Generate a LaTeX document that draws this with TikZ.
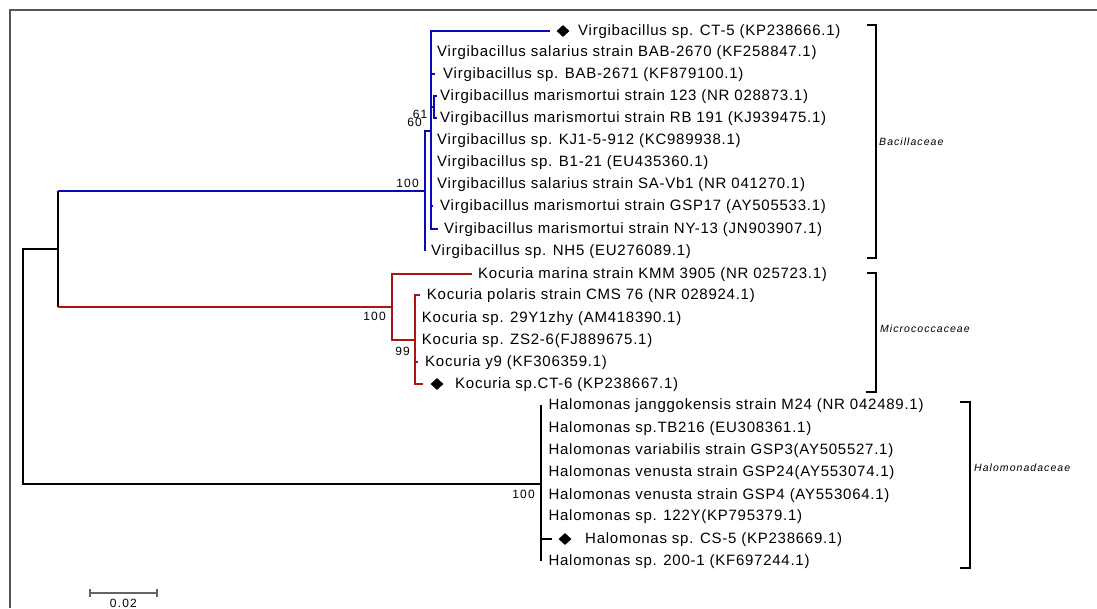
\documentclass[tikz,border=0pt]{standalone}
\usepackage{fontspec}
\setmainfont{Liberation Sans}
\newfontfamily\leaffont[LetterSpace=5]{Liberation Sans}
\newfontfamily\smallfont[LetterSpace=10]{Liberation Sans}
\usetikzlibrary{shapes.geometric}
\definecolor{tblue}{RGB}{10,10,185}
\definecolor{tred}{RGB}{170,20,20}
\definecolor{framec}{RGB}{85,85,85}
\definecolor{barc}{RGB}{100,100,100}
\begin{document}
\begin{tikzpicture}[x=1pt,y=-1pt,
  lf/.style={anchor=west,inner sep=0pt,font=\leaffont\fontsize{15}{17}\selectfont},
  bs/.style={anchor=east,inner sep=0pt,font=\smallfont\fontsize{12}{14}\selectfont},
  fam/.style={anchor=west,inner sep=0pt,font=\smallfont\itshape\fontsize{10.5}{12}\selectfont},
  dmd/.style={shape=diamond,fill=black,draw=none,minimum width=13pt,minimum height=12pt,inner sep=0pt},
  br/.style={line width=1.15pt,black},
  tr/.style={line width=1.2pt}]
\useasboundingbox (0,0) rectangle (1097,608);
% frame
\draw[framec,line width=2pt] (10,608) -- (10,10) -- (1097,10);

% internal nodes
\coordinate (R) at (23,249);
\coordinate (A) at (58,249);
\coordinate (B) at (425,191);
\coordinate (V) at (431,131);
\coordinate (V2) at (434,107);
\coordinate (M) at (392,307);
\coordinate (P) at (415,340);
\coordinate (H) at (541,484);

% tips
\coordinate (e1) at (550,31);
\coordinate (e2) at (431,53);
\coordinate (e3) at (435,74);
\coordinate (e4) at (437,96);
\coordinate (e5) at (437,118);
\coordinate (e6) at (431,140);
\coordinate (e7) at (431,162);
\coordinate (e8) at (431,184);
\coordinate (e9) at (433,206);
\coordinate (e10) at (438,229);
\coordinate (e11) at (425,251);
\coordinate (k1) at (472,274);
\coordinate (k2) at (420,295);
\coordinate (k3) at (415,318);
\coordinate (k4) at (415,340);
\coordinate (k5) at (418,362);
\coordinate (k6) at (423,384);
\coordinate (h1) at (541,405);
\coordinate (h2) at (541,428);
\coordinate (h3) at (541,450);
\coordinate (h4) at (541,472);
\coordinate (h5) at (541,495);
\coordinate (h6) at (541,516);
\coordinate (h7) at (552,539);
\coordinate (h8) at (541,561);

% backbone
\draw[tr,black] (A) -- (R) |- (H);
\draw[tr,black] (A|-B) -- (A|-M);
\draw[tr,tblue] (A|-B) -- (B);
\draw[tr,tred] (A|-M) -- (M);

% Bacillaceae
\draw[tr,tblue] (B) |- (V);
\draw[tr,tblue] (B) |- (e11);
\foreach \t in {e1,e2,e3,e6,e7,e8,e9,e10,V2} \draw[tr,tblue] (V) |- (\t);
\draw[tr,tblue] (V2) |- (e4);
\draw[tr,tblue] (V2) |- (e5);

% Micrococcaceae
\draw[tr,tred] (M) |- (k1);
\draw[tr,tred] (M) |- (P);
\foreach \t in {k2,k3,k4,k5,k6} \draw[tr,tred] (P) |- (\t);

% Halomonadaceae
\foreach \t in {h1,h2,h3,h4,h5,h6,h7,h8} \draw[tr,black] (H) |- (\t);

% diamonds
\node[dmd] (d1) at (563,31) {};
\node[dmd] (d2) at (437,384) {};
\node[dmd] (d3) at (565,539) {};

% leaf labels
\node[lf] (l1) at (578,31.5) {Virgibacillus sp. CT-5 (KP238666.1)};
\node[lf] (l2) at (437,52.7) {Virgibacillus salarius strain BAB-2670 (KF258847.1)};
\node[lf] (l3) at (443,74.5) {Virgibacillus sp. BAB-2671 (KF879100.1)};
\node[lf] (l4) at (440,96.5) {Virgibacillus marismortui strain 123 (NR 028873.1)};
\node[lf] (l5) at (440,118.5) {Virgibacillus marismortui strain RB 191 (KJ939475.1)};
\node[lf] (l6) at (437,140.5) {Virgibacillus sp. KJ1-5-912 (KC989938.1)};
\node[lf] (l7) at (437,162.5) {Virgibacillus sp. B1-21 (EU435360.1)};
\node[lf] (l8) at (437,184.5) {Virgibacillus salarius strain SA-Vb1 (NR 041270.1)};
\node[lf] (l9) at (440,206.5) {Virgibacillus marismortui strain GSP17 (AY505533.1)};
\node[lf] (l10) at (444,229.5) {Virgibacillus marismortui strain NY-13 (JN903907.1)};
\node[lf] (l11) at (431,251.5) {Virgibacillus sp. NH5 (EU276089.1)};
\node[lf] (m1) at (478,274.5) {Kocuria marina strain KMM 3905 (NR 025723.1)};
\node[lf] (m2) at (426.7,295.5) {Kocuria polaris strain CMS 76 (NR 028924.1)};
\node[lf] (m3) at (421.7,318.5) {Kocuria sp. 29Y1zhy (AM418390.1)};
\node[lf] (m4) at (421.7,340.5) {Kocuria sp. ZS2-6(FJ889675.1)};
\node[lf] (m5) at (425,362.5) {Kocuria y9 (KF306359.1)};
\node[lf] (m6) at (455,384.5) {Kocuria sp.CT-6 (KP238667.1)};
\node[lf] (n1) at (548.3,405.5) {Halomonas janggokensis strain M24 (NR 042489.1)};
\node[lf] (n2) at (548.3,428.5) {Halomonas sp.TB216 (EU308361.1)};
\node[lf] (n3) at (548.3,450.5) {Halomonas variabilis strain GSP3(AY505527.1)};
\node[lf] (n4) at (548.3,472.5) {Halomonas venusta strain GSP24(AY553074.1)};
\node[lf] (n5) at (548.3,495.5) {Halomonas venusta strain GSP4 (AY553064.1)};
\node[lf] (n6) at (548.3,516.5) {Halomonas sp. 122Y(KP795379.1)};
\node[lf] (n7) at (585,539.5) {Halomonas sp. CS-5 (KP238669.1)};
\node[lf] (n8) at (548.3,561.5) {Halomonas sp. 200-1 (KF697244.1)};

% bootstrap values
\node[bs] (b1) at (419,183) {100};
\node[bs] (b2) at (427.5,114.5) {61};
\node[bs] (b3) at (422,122.5) {60};
\node[bs] (b4) at (386,316) {100};
\node[bs] (b5) at (410,351) {99};
\node[bs] (b6) at (535,494) {100};

% family brackets
\draw[br] (867,25) -- (876,25) -- (876,258) -- (867,258);
\draw[br] (867,273) -- (876,273) -- (876,392) -- (866,392);
\draw[br] (960,402) -- (970,402) -- (970,568) -- (960,568);
\node[fam] (f1) at (879,141.7) {Bacillaceae};
\node[fam] (f2) at (880,329) {Micrococcaceae};
\node[fam] (f3) at (974,467.3) {Halomonadaceae};

% scale bar
\coordinate (s1) at (90,593);
\coordinate (s2) at (157,593);
\draw[barc,line width=1.2pt] (s1) -- (s2);
\draw[barc,line width=1.2pt] ([yshift=-4pt]s1) -- ([yshift=4pt]s1);
\draw[barc,line width=1.2pt] ([yshift=-4pt]s2) -- ([yshift=4pt]s2);
\node[inner sep=0pt,font=\smallfont\fontsize{12}{14}\selectfont] (sc) at (123.4,603.5) {0.02};
\end{tikzpicture}
\end{document}
